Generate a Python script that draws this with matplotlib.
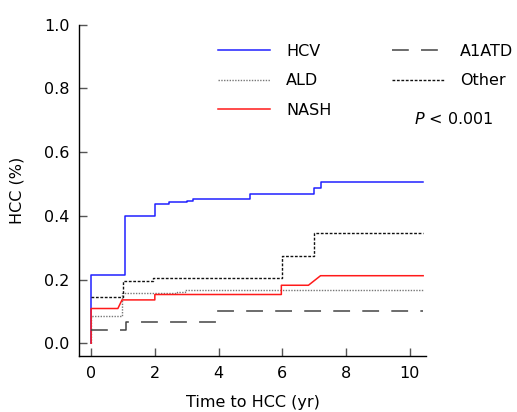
import numpy as np
import matplotlib.pyplot as plt

# step data (years, cumulative HCC fraction)
hcv_t = [0, 0, 1.05, 2.0, 2.45, 3.0, 3.2, 5.0, 7.0, 7.2, 10.42]
hcv_y = [0, 0.215, 0.40, 0.436, 0.443, 0.448, 0.453, 0.467, 0.488, 0.505, 0.505]

ald_t = [0, 0, 0.97, 2.7, 2.95, 10.42]
ald_y = [0, 0.086, 0.157, 0.160, 0.167, 0.167]

# NASH curve has short sloped rises, so it is kept as plain vertices
nash_t = [0, 0, 0.84, 0.97, 1.73, 2.0, 2.0, 5.97, 5.97, 6.82, 7.2, 10.42]
nash_y = [0, 0.109, 0.109, 0.136, 0.136, 0.136, 0.153, 0.153, 0.182, 0.182, 0.212, 0.212]

a1atd_t = [0, 1.1, 3.96, 10.42]
a1atd_y = [0.041, 0.066, 0.101, 0.101]

other_t = [0, 1.0, 1.95, 5.98, 7.0, 10.42]
other_y = [0.145, 0.196, 0.205, 0.273, 0.345, 0.345]

xticks = [0, 2, 4, 6, 8, 10]
yticks = [0.0, 0.2, 0.4, 0.6, 0.8, 1.0]

plt.rcParams['font.family'] = ['DejaVu Sans']
plt.rcParams['font.size'] = 11.5

fig = plt.figure(figsize=(5.17, 4.12), dpi=100)
ax = fig.add_axes([0.1534, 0.136, 0.670, 0.804])

ax.step(hcv_t, hcv_y, where='post', color='#2020ff', lw=1.1, label='HCV')
ax.step(ald_t, ald_y, where='post', color='#777777', lw=1.0, ls=(0, (1, 1)), label='ALD')
ax.plot(nash_t, nash_y, color='#ff1a1a', lw=1.1, label='NASH')
ax.step(a1atd_t, a1atd_y, where='post', color='#444444', lw=1.1, ls=(0, (11, 8)), label='A1ATD')
ax.step(other_t, other_y, where='post', color='#111111', lw=1.0, ls=(0, (2, 1.2)), label='Other')

ax.set_xlim(-0.37, 10.5)
ax.set_ylim(-0.04, 1.0)
ax.set_xticks(xticks)
ax.set_yticks(yticks)
ax.set_yticklabels([f'{v:.1f}' for v in yticks])
ax.spines['top'].set_visible(False)
ax.spines['right'].set_visible(False)
for s in ('left', 'bottom'):
    ax.spines[s].set_linewidth(1.0)
ax.tick_params(direction='in', length=5.5, width=1.0, color='#555555', pad=7)

ax.set_xlabel('Time to HCC (yr)', labelpad=10)
ax.set_ylabel('HCC (%)', labelpad=14)

ax.legend(loc='upper left', bbox_to_anchor=(0.358, 0.985), ncol=2, frameon=False,
          handlelength=3.3, handletextpad=1.0, labelspacing=0.9, columnspacing=3.75)
ax.text(0.965, 0.716, r'$\it{P}$ < 0.001', transform=ax.transAxes, ha='left', va='center',
        clip_on=False)

fig.savefig('out.png', dpi=100)
